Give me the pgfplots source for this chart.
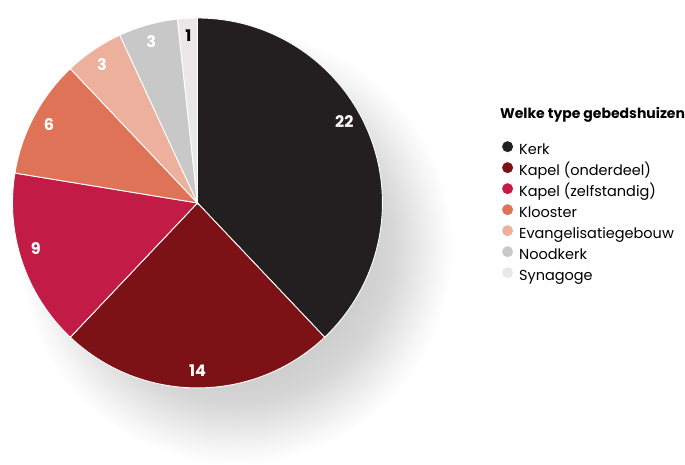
\documentclass[border=0pt]{standalone}
\usepackage{pgfplots}
\pgfplotsset{compat=1.18}
\usepackage{pgfplotstable}
\usepackage{fontspec}
\setmainfont{Poppins}
\definecolor{cKerk}{HTML}{231F20}
\definecolor{cKapelO}{HTML}{7C1215}
\definecolor{cKapelZ}{HTML}{C21B45}
\definecolor{cKlooster}{HTML}{DF7358}
\definecolor{cEvang}{HTML}{ECB09C}
\definecolor{cNood}{HTML}{C8C8C8}
\definecolor{cSyn}{HTML}{E9E7E7}
\pgfdeclareradialshading{softshadow}{\pgfpoint{0bp}{0bp}}{color(0bp)=(black!20); color(15bp)=(black!19); color(18bp)=(black!16); color(20.5bp)=(black!10); color(23bp)=(black!4); color(25bp)=(white); color(50bp)=(white)}

\pgfplotstableread[col sep=comma]{
name,value,color,lcolor,loff
Kerk,22,cKerk,white,7.3
Kapel (onderdeel),14,cKapelO,white,0
Kapel (zelfstandig),9,cKapelZ,white,-3
Klooster,6,cKlooster,white,0
Evangelisatiegebouw,3,cEvang,white,0.5
Noodkerk,3,cNood,white,0.5
Synagoge,1,cSyn,black,0
}\data

\pgfplotstablegetrowsof{\data}
\pgfmathtruncatemacro\nrows{\pgfplotsretval-1}
\def\total{0}
\pgfplotsforeachungrouped \i in {0,...,\nrows}{%
  \pgfplotstablegetelem{\i}{value}\of\data
  \pgfmathsetmacro\total{\total+\pgfplotsretval}%
}
\def\slices{}
\def\labels{}
\def\legendpart{}
\def\cum{0}
\pgfplotsforeachungrouped \i in {0,...,\nrows}{%
  \pgfplotstablegetelem{\i}{value}\of\data \let\sv=\pgfplotsretval
  \pgfplotstablegetelem{\i}{color}\of\data \let\sc=\pgfplotsretval
  \pgfplotstablegetelem{\i}{lcolor}\of\data \let\slc=\pgfplotsretval
  \pgfplotstablegetelem{\i}{loff}\of\data \let\slo=\pgfplotsretval
  \pgfplotstablegetelem{\i}{name}\of\data \let\snm=\pgfplotsretval
  \pgfmathsetmacro\sa{90-\cum/\total*360}%
  \pgfmathsetmacro\sb{90-(\cum+\sv)/\total*360}%
  \pgfmathsetmacro\sm{(\sa+\sb)/2+\slo}%
  \pgfmathtruncatemacro\svv{\sv}%
  \xdef\slices{\unexpanded\expandafter{\slices}%
    \noexpand\fill[\sc, draw=white, line width=0.9pt] (axis cs:0,0) -- (axis cs:{185*cos(\sa)},{185*sin(\sa)}) arc[start angle=\sa, end angle=\sb, radius=185pt] -- cycle;
  }%
  \xdef\labels{\unexpanded\expandafter{\labels}%
    \noexpand\node[text=\slc, font=\noexpand\fontsize{16}{18}\noexpand\selectfont\noexpand\bfseries] at (axis cs:{168*cos(\sm)},{168*sin(\sm)}) {\svv};
  }%
  \xdef\legendpart{\unexpanded\expandafter{\legendpart}%
    \noexpand\addlegendimage{fill=\sc}\noexpand\addlegendentry{\snm}
  }%
  \pgfmathsetmacro\cum{\cum+\sv}%
}

\begin{document}
\begin{tikzpicture}
\begin{axis}[
  x=1pt, y=1pt, disabledatascaling,
  xmin=-197.5, xmax=487.5, ymin=-253, ymax=203,
  hide axis, clip=false, scale only axis,
  legend style={at={(axis cs:301.5,65)}, anchor=north west, draw=none, fill=none,
    font=\fontsize{14.5}{16}\selectfont, row sep=0pt,
    nodes={inner sep=0pt, text height=10pt, text depth=3pt, minimum height=21pt}},
  legend cell align=left,
  legend image code/.code={\fill[#1, draw=none] (5.5pt,4pt) circle (5.5pt); \path[draw=none, fill=none] (0pt,4pt) -- (17pt,4pt);},
]
\fill[white] (axis cs:-197.5,-253) rectangle (axis cs:487.5,203);
\shade[shading=softshadow] (axis cs:38,-44) circle[radius=218pt];
\slices
\labels
\node[anchor=base west, inner sep=0pt, font=\fontsize{14}{16}\selectfont\bfseries] at (axis cs:302.5,84) {Welke type gebedshuizen};
\legendpart
\end{axis}
\end{tikzpicture}
\end{document}
